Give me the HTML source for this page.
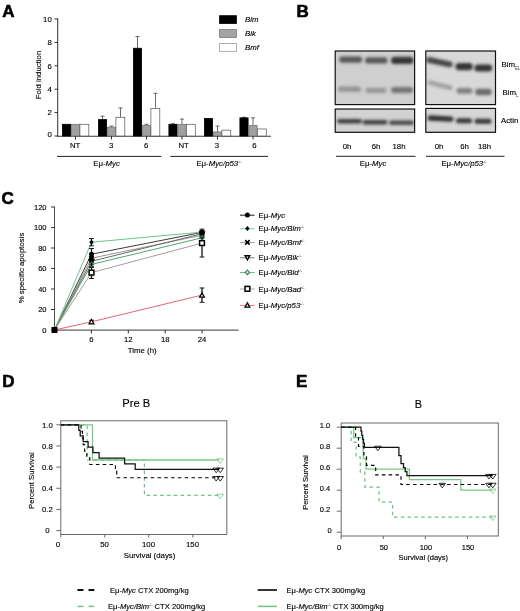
<!DOCTYPE html>
<html><head><meta charset="utf-8"><title>Figure</title>
<style>
html,body{margin:0;padding:0;background:#fff;}
svg{display:block;font-family:"Liberation Sans",sans-serif;filter:blur(0.35px);}
text{fill:#000;stroke:#000;stroke-width:0.13px;}
</style></head><body>
<svg width="520" height="611" viewBox="0 0 520 611">
<rect width="520" height="611" fill="#fff"/>
<text x="2.3" y="16.8" font-size="17" font-weight="bold" style="stroke-width:0.6px" stroke-linejoin="round">A</text>
<text x="296.5" y="17.2" font-size="17" font-weight="bold" style="stroke-width:0.6px" stroke-linejoin="round">B</text>
<text x="1.6" y="204.3" font-size="17" font-weight="bold" style="stroke-width:0.6px" stroke-linejoin="round">C</text>
<text x="2.2" y="386.7" font-size="17" font-weight="bold" style="stroke-width:0.6px" stroke-linejoin="round">D</text>
<text x="296.1" y="386.8" font-size="17" font-weight="bold" style="stroke-width:0.6px" stroke-linejoin="round">E</text>
<line x1="57.7" y1="18.5" x2="57.7" y2="136.8" stroke="#3a3a3a" stroke-width="1.05" />
<line x1="57.2" y1="136.3" x2="271" y2="136.3" stroke="#3a3a3a" stroke-width="1.05" />
<line x1="54.5" y1="136.0" x2="58" y2="136.0" stroke="#333" stroke-width="1" />
<text x="51.8" y="137.29999999999998" font-size="7.8" text-anchor="end" >0</text>
<line x1="54.5" y1="112.6" x2="58" y2="112.6" stroke="#333" stroke-width="1" />
<text x="51.8" y="115.3" font-size="7.8" text-anchor="end" >2</text>
<line x1="54.5" y1="89.2" x2="58" y2="89.2" stroke="#333" stroke-width="1" />
<text x="51.8" y="91.9" font-size="7.8" text-anchor="end" >4</text>
<line x1="54.5" y1="65.80000000000001" x2="58" y2="65.80000000000001" stroke="#333" stroke-width="1" />
<text x="51.8" y="68.50000000000001" font-size="7.8" text-anchor="end" >6</text>
<line x1="54.5" y1="42.400000000000006" x2="58" y2="42.400000000000006" stroke="#333" stroke-width="1" />
<text x="51.8" y="45.10000000000001" font-size="7.8" text-anchor="end" >8</text>
<line x1="54.5" y1="19.0" x2="58" y2="19.0" stroke="#333" stroke-width="1" />
<text x="51.8" y="21.7" font-size="7.8" text-anchor="end" >10</text>
<text x="41" y="75" font-size="7.8" text-anchor="middle" transform="rotate(-90 41 75)" >Fold induction</text>
<rect x="62.4" y="124.30" width="8.2" height="11.70" fill="#000" stroke="#000" stroke-width="0.8"/>
<rect x="71.4" y="124.30" width="8.2" height="11.70" fill="#a0a0a0" stroke="#777" stroke-width="0.8"/>
<rect x="79.9" y="124.30" width="8.9" height="11.70" fill="#fff" stroke="#555" stroke-width="0.7"/>
<line x1="75.5" y1="136" x2="75.5" y2="139.5" stroke="#333" stroke-width="1" />
<text x="75.1" y="148.2" font-size="7.8" text-anchor="middle" >NT</text>
<line x1="102.5" y1="119.62" x2="102.5" y2="116.11" stroke="#444" stroke-width="0.8" />
<line x1="100.5" y1="116.11" x2="104.5" y2="116.11" stroke="#444" stroke-width="0.8" />
<rect x="98.4" y="119.62" width="8.2" height="16.38" fill="#000" stroke="#000" stroke-width="0.8"/>
<line x1="111.5" y1="127.225" x2="111.5" y2="126.05499999999999" stroke="#444" stroke-width="0.8" />
<line x1="109.5" y1="126.05499999999999" x2="113.5" y2="126.05499999999999" stroke="#444" stroke-width="0.8" />
<rect x="107.4" y="127.22" width="8.2" height="8.78" fill="#a0a0a0" stroke="#777" stroke-width="0.8"/>
<line x1="120.5" y1="117.28" x2="120.5" y2="107.92" stroke="#444" stroke-width="0.8" />
<line x1="118.5" y1="107.92" x2="122.5" y2="107.92" stroke="#444" stroke-width="0.8" />
<rect x="115.9" y="117.28" width="8.9" height="18.72" fill="#fff" stroke="#555" stroke-width="0.7"/>
<line x1="111.5" y1="136" x2="111.5" y2="139.5" stroke="#333" stroke-width="1" />
<text x="111.1" y="148.2" font-size="7.8" text-anchor="middle" >3</text>
<line x1="137.5" y1="48.25" x2="137.5" y2="36.55" stroke="#444" stroke-width="0.8" />
<line x1="135.5" y1="36.55" x2="139.5" y2="36.55" stroke="#444" stroke-width="0.8" />
<rect x="133.4" y="48.25" width="8.2" height="87.75" fill="#000" stroke="#000" stroke-width="0.8"/>
<line x1="146.5" y1="125.47" x2="146.5" y2="124.3" stroke="#444" stroke-width="0.8" />
<line x1="144.5" y1="124.3" x2="148.5" y2="124.3" stroke="#444" stroke-width="0.8" />
<rect x="142.4" y="125.47" width="8.2" height="10.53" fill="#a0a0a0" stroke="#777" stroke-width="0.8"/>
<line x1="155.5" y1="108.505" x2="155.5" y2="93.295" stroke="#444" stroke-width="0.8" />
<line x1="153.5" y1="93.295" x2="157.5" y2="93.295" stroke="#444" stroke-width="0.8" />
<rect x="150.9" y="108.50" width="8.9" height="27.50" fill="#fff" stroke="#555" stroke-width="0.7"/>
<line x1="146.5" y1="136" x2="146.5" y2="139.5" stroke="#333" stroke-width="1" />
<text x="146.1" y="148.2" font-size="7.8" text-anchor="middle" >6</text>
<line x1="173.0" y1="124.3" x2="173.0" y2="123.715" stroke="#444" stroke-width="0.8" />
<line x1="171.0" y1="123.715" x2="175.0" y2="123.715" stroke="#444" stroke-width="0.8" />
<rect x="168.9" y="124.30" width="8.2" height="11.70" fill="#000" stroke="#000" stroke-width="0.8"/>
<line x1="182.0" y1="124.3" x2="182.0" y2="119.035" stroke="#444" stroke-width="0.8" />
<line x1="180.0" y1="119.035" x2="184.0" y2="119.035" stroke="#444" stroke-width="0.8" />
<rect x="177.9" y="124.30" width="8.2" height="11.70" fill="#a0a0a0" stroke="#777" stroke-width="0.8"/>
<rect x="186.4" y="124.30" width="8.9" height="11.70" fill="#fff" stroke="#555" stroke-width="0.7"/>
<line x1="182.0" y1="136" x2="182.0" y2="139.5" stroke="#333" stroke-width="1" />
<text x="183.6" y="148.2" font-size="7.8" text-anchor="middle" >NT</text>
<rect x="204.4" y="118.45" width="8.2" height="17.55" fill="#000" stroke="#000" stroke-width="0.8"/>
<line x1="217.5" y1="131.905" x2="217.5" y2="126.055" stroke="#444" stroke-width="0.8" />
<line x1="215.5" y1="126.055" x2="219.5" y2="126.055" stroke="#444" stroke-width="0.8" />
<rect x="213.4" y="131.91" width="8.2" height="4.09" fill="#a0a0a0" stroke="#777" stroke-width="0.8"/>
<rect x="221.9" y="130.15" width="8.9" height="5.85" fill="#fff" stroke="#555" stroke-width="0.7"/>
<line x1="217.5" y1="136" x2="217.5" y2="139.5" stroke="#333" stroke-width="1" />
<text x="216.8" y="148.2" font-size="7.8" text-anchor="middle" >3</text>
<line x1="244.0" y1="117.86500000000001" x2="244.0" y2="117.28000000000002" stroke="#444" stroke-width="0.8" />
<line x1="242.0" y1="117.28000000000002" x2="246.0" y2="117.28000000000002" stroke="#444" stroke-width="0.8" />
<rect x="239.9" y="117.87" width="8.2" height="18.13" fill="#000" stroke="#000" stroke-width="0.8"/>
<line x1="253.0" y1="125.47" x2="253.0" y2="117.865" stroke="#444" stroke-width="0.8" />
<line x1="251.0" y1="117.865" x2="255.0" y2="117.865" stroke="#444" stroke-width="0.8" />
<rect x="248.9" y="125.47" width="8.2" height="10.53" fill="#a0a0a0" stroke="#777" stroke-width="0.8"/>
<rect x="257.4" y="128.98" width="8.9" height="7.02" fill="#fff" stroke="#555" stroke-width="0.7"/>
<line x1="253.0" y1="136" x2="253.0" y2="139.5" stroke="#333" stroke-width="1" />
<text x="254.5" y="148.2" font-size="7.8" text-anchor="middle" >6</text>
<line x1="57" y1="156.4" x2="161.3" y2="156.4" stroke="#222" stroke-width="1" />
<line x1="170.4" y1="156.4" x2="268" y2="156.4" stroke="#222" stroke-width="1" />
<text x="106.5" y="166" font-size="7.8" text-anchor="middle" >Eμ-<tspan font-style="italic">Myc</tspan></text>
<text x="219" y="166" font-size="7.8" text-anchor="middle" >Eμ-<tspan font-style="italic">Myc/p53</tspan><tspan font-size="3.6" dy="-3" style="stroke-width:0;fill:#333">-/-</tspan></text>
<rect x="219.6" y="15.7" width="16.8" height="7.8" fill="#000" stroke="#000" stroke-width="0.8"/>
<text x="245" y="22.4" font-size="7.8" text-anchor="start" font-style="italic">Bim</text>
<rect x="219.6" y="29.6" width="16.8" height="7.8" fill="#a4a4a4" stroke="#777" stroke-width="0.8"/>
<text x="245" y="36.300000000000004" font-size="7.8" text-anchor="start" font-style="italic">Bik</text>
<rect x="219.6" y="43.5" width="16.8" height="7.8" fill="#fff" stroke="#999" stroke-width="0.8"/>
<text x="245" y="50.2" font-size="7.8" text-anchor="start" font-style="italic">Bmf</text>
<defs>
<filter id="bl" x="-30%" y="-200%" width="160%" height="500%"><feGaussianBlur stdDeviation="1.5 1.4"/></filter>
<filter id="bl2" x="-20%" y="-100%" width="140%" height="300%"><feGaussianBlur stdDeviation="1.4 0.8"/></filter>
<clipPath id="c1"><rect x="335.5" y="51" width="79" height="53.5"/></clipPath>
<clipPath id="c2"><rect x="335.5" y="109" width="79" height="23.5"/></clipPath>
<clipPath id="c3"><rect x="426" y="51" width="69.5" height="53.5"/></clipPath>
<clipPath id="c4"><rect x="426" y="108.4" width="69.5" height="24"/></clipPath>
</defs>
<rect x="335.2" y="51" width="79.4" height="53.6" fill="#cfcfcf"/>
<g clip-path="url(#c1)">
<g filter="url(#bl)"><rect x="339.2" y="56.5" width="23" height="6.2" rx="3.1" fill="#3a3a3a" opacity="0.8"/></g>
<g filter="url(#bl)"><rect x="365.05" y="57.3" width="22.5" height="6.2" rx="3.1" fill="#3a3a3a" opacity="0.8"/></g>
<g filter="url(#bl)"><rect x="391.05" y="56.8" width="22.5" height="7.2" rx="3.6" fill="#262626" opacity="0.9"/></g>
<g filter="url(#bl)"><rect x="338.0" y="86.60000000000001" width="23" height="5.2" rx="2.6" fill="#555" opacity="0.5"/></g>
<g filter="url(#bl)"><rect x="365.5" y="87.7" width="21" height="5.2" rx="2.6" fill="#555" opacity="0.45"/></g>
<g filter="url(#bl)"><rect x="391.0" y="87.1" width="22" height="5.8" rx="2.9" fill="#444" opacity="0.65"/></g>
</g>
<rect x="335.2" y="51" width="79.4" height="53.6" fill="none" stroke="#111" stroke-width="1.2"/>
<rect x="335.2" y="109" width="79.4" height="23.3" fill="#d2d2d2"/>
<g clip-path="url(#c2)">
<g filter="url(#bl)"><rect x="337.0" y="118.9" width="25" height="4.6" rx="2.3" fill="#2a2a2a" opacity="0.88"/></g>
<g filter="url(#bl)"><rect x="362.5" y="120.0" width="25" height="4.6" rx="2.3" fill="#2a2a2a" opacity="0.88"/></g>
<g filter="url(#bl)"><rect x="389.0" y="120.6" width="25" height="4.4" rx="2.2" fill="#2a2a2a" opacity="0.82"/></g>
</g>
<rect x="335.2" y="109" width="79.4" height="23.3" fill="none" stroke="#111" stroke-width="1.2"/>
<rect x="425.8" y="51" width="69.7" height="53.6" fill="#d8d8d8"/>
<g clip-path="url(#c3)">
<g filter="url(#bl)"><rect x="426.0" y="59.2" width="27" height="6" rx="3.0" fill="#2e2e2e" opacity="0.85" transform="rotate(12 439.5 62.2)"/></g>
<g filter="url(#bl)"><rect x="455.35" y="62.99999999999999" width="17.5" height="7.2" rx="3.6" fill="#262626" opacity="0.9"/></g>
<g filter="url(#bl)"><rect x="474.3" y="64.4" width="18" height="7.2" rx="3.6" fill="#262626" opacity="0.9"/></g>
<g filter="url(#bl)"><rect x="427.0" y="82.95" width="26" height="4.5" rx="2.25" fill="#666" opacity="0.5" transform="rotate(14 440 85.2)"/></g>
<g filter="url(#bl)"><rect x="456.5" y="87.89999999999999" width="16" height="5.8" rx="2.9" fill="#444" opacity="0.6"/></g>
<g filter="url(#bl)"><rect x="475.25" y="88.85" width="16.5" height="6.3" rx="3.15" fill="#3a3a3a" opacity="0.7"/></g>
</g>
<rect x="425.8" y="51" width="69.7" height="53.6" fill="none" stroke="#111" stroke-width="1.2"/>
<rect x="425.8" y="108.4" width="69.7" height="23.9" fill="#d6d6d6"/>
<g clip-path="url(#c4)">
<g filter="url(#bl)"><rect x="427.5" y="115.89999999999999" width="26" height="5.4" rx="2.7" fill="#222" opacity="0.92" transform="rotate(3 440.5 118.6)"/></g>
<g filter="url(#bl)"><rect x="456.0" y="118.2" width="16" height="5" rx="2.5" fill="#222" opacity="0.9"/></g>
<g filter="url(#bl)"><rect x="474.5" y="118.7" width="17" height="5" rx="2.5" fill="#222" opacity="0.9"/></g>
</g>
<rect x="425.8" y="108.4" width="69.7" height="23.9" fill="none" stroke="#111" stroke-width="1.2"/>
<text x="501.5" y="67" font-size="7.8" text-anchor="start" >Bim<tspan font-size="4.6" dy="2.6" style="stroke-width:0;fill:#444">EL</tspan></text>
<text x="502.5" y="94.5" font-size="7.8" text-anchor="start" >Bim<tspan font-size="4.6" dy="2.6" style="stroke-width:0;fill:#444">L</tspan></text>
<text x="501" y="123.1" font-size="7.8" text-anchor="start" >Actin</text>
<text x="347" y="148.5" font-size="7.8" text-anchor="middle" >0h</text>
<text x="376" y="148.5" font-size="7.8" text-anchor="middle" >6h</text>
<text x="399" y="148.5" font-size="7.8" text-anchor="middle" >18h</text>
<text x="439" y="148.5" font-size="7.8" text-anchor="middle" >0h</text>
<text x="464.5" y="148.5" font-size="7.8" text-anchor="middle" >6h</text>
<text x="484.5" y="148.5" font-size="7.8" text-anchor="middle" >18h</text>
<line x1="336" y1="156.3" x2="415.5" y2="156.3" stroke="#222" stroke-width="1" />
<line x1="426" y1="156.3" x2="504.5" y2="156.3" stroke="#222" stroke-width="1" />
<text x="373" y="166" font-size="7.8" text-anchor="middle" >Eμ-<tspan font-style="italic">Myc</tspan></text>
<text x="464" y="166" font-size="7.8" text-anchor="middle" >Eμ-<tspan font-style="italic">Myc/p53</tspan><tspan font-size="3.6" dy="-3" style="stroke-width:0;fill:#333">-/-</tspan></text>
<line x1="54.5" y1="206.5" x2="54.5" y2="330.5" stroke="#505050" stroke-width="1" />
<line x1="54.0" y1="330.2" x2="238.5" y2="330.2" stroke="#606060" stroke-width="1.3" />
<line x1="51.0" y1="330.0" x2="54.5" y2="330.0" stroke="#333" stroke-width="1" />
<text x="46.5" y="332.6" font-size="7.5" text-anchor="end" >0</text>
<line x1="51.0" y1="309.5" x2="54.5" y2="309.5" stroke="#333" stroke-width="1" />
<text x="46.5" y="312.1" font-size="7.5" text-anchor="end" >20</text>
<line x1="51.0" y1="289.0" x2="54.5" y2="289.0" stroke="#333" stroke-width="1" />
<text x="46.5" y="291.6" font-size="7.5" text-anchor="end" >40</text>
<line x1="51.0" y1="268.5" x2="54.5" y2="268.5" stroke="#333" stroke-width="1" />
<text x="46.5" y="271.1" font-size="7.5" text-anchor="end" >60</text>
<line x1="51.0" y1="248.0" x2="54.5" y2="248.0" stroke="#333" stroke-width="1" />
<text x="46.5" y="250.6" font-size="7.5" text-anchor="end" >80</text>
<line x1="51.0" y1="227.5" x2="54.5" y2="227.5" stroke="#333" stroke-width="1" />
<text x="46.5" y="230.1" font-size="7.5" text-anchor="end" >100</text>
<line x1="51.0" y1="207.0" x2="54.5" y2="207.0" stroke="#333" stroke-width="1" />
<text x="46.5" y="209.6" font-size="7.5" text-anchor="end" >120</text>
<line x1="91.4" y1="330" x2="91.4" y2="333.5" stroke="#333" stroke-width="1" />
<text x="91.4" y="341.8" font-size="7.7" text-anchor="middle" >6</text>
<line x1="128.3" y1="330" x2="128.3" y2="333.5" stroke="#333" stroke-width="1" />
<text x="128.3" y="341.8" font-size="7.7" text-anchor="middle" >12</text>
<line x1="165.2" y1="330" x2="165.2" y2="333.5" stroke="#333" stroke-width="1" />
<text x="165.2" y="341.8" font-size="7.7" text-anchor="middle" >18</text>
<line x1="202.1" y1="330" x2="202.1" y2="333.5" stroke="#333" stroke-width="1" />
<text x="202.1" y="341.8" font-size="7.7" text-anchor="middle" >24</text>
<text x="142.2" y="353.1" font-size="7.8" text-anchor="middle" >Time (h)</text>
<text x="24" y="268" font-size="7.8" text-anchor="middle" transform="rotate(-90 24 268)" >% specific apoptosis</text>
<polyline points="54.5,330 91.5,254.2 202,232.4" fill="none" stroke="#3a3a3a" stroke-width="1"/>
<polyline points="54.5,330 91.5,242.2 202,232.1" fill="none" stroke="#70c090" stroke-width="1"/>
<polyline points="54.5,330 91.5,258.2 202,235.2" fill="none" stroke="#a09090" stroke-width="1"/>
<polyline points="54.5,330 91.5,261.3 202,233.7" fill="none" stroke="#6a6a6a" stroke-width="1"/>
<polyline points="54.5,330 91.5,264.4 202,237.8" fill="none" stroke="#4fa66e" stroke-width="1"/>
<polyline points="54.5,330 91.5,272.6 202,243.1" fill="none" stroke="#a89a9a" stroke-width="1"/>
<polyline points="54.5,330 91.5,321.8 202,295.1" fill="none" stroke="#e56672" stroke-width="1"/>
<line x1="91.5" y1="248.51250000000002" x2="91.5" y2="259.7875" stroke="#111" stroke-width="1.3" />
<line x1="89.1" y1="248.51250000000002" x2="93.9" y2="248.51250000000002" stroke="#1a1a1a" stroke-width="1" />
<line x1="89.1" y1="259.7875" x2="93.9" y2="259.7875" stroke="#1a1a1a" stroke-width="1" />
<line x1="202" y1="230.37" x2="202" y2="234.47000000000003" stroke="#111" stroke-width="1.3" />
<line x1="199.6" y1="230.37" x2="204.4" y2="230.37" stroke="#1a1a1a" stroke-width="1" />
<line x1="199.6" y1="234.47000000000003" x2="204.4" y2="234.47000000000003" stroke="#1a1a1a" stroke-width="1" />
<line x1="91.5" y1="238.4675" x2="91.5" y2="245.8475" stroke="#111" stroke-width="1.3" />
<line x1="89.1" y1="238.4675" x2="93.9" y2="238.4675" stroke="#1a1a1a" stroke-width="1" />
<line x1="89.1" y1="245.8475" x2="93.9" y2="245.8475" stroke="#1a1a1a" stroke-width="1" />
<line x1="202" y1="231.0875" x2="202" y2="233.13750000000002" stroke="#111" stroke-width="1.3" />
<line x1="199.6" y1="231.0875" x2="204.4" y2="231.0875" stroke="#1a1a1a" stroke-width="1" />
<line x1="199.6" y1="233.13750000000002" x2="204.4" y2="233.13750000000002" stroke="#1a1a1a" stroke-width="1" />
<line x1="91.5" y1="254.15" x2="91.5" y2="262.35" stroke="#111" stroke-width="1.3" />
<line x1="89.1" y1="254.15" x2="93.9" y2="254.15" stroke="#1a1a1a" stroke-width="1" />
<line x1="89.1" y1="262.35" x2="93.9" y2="262.35" stroke="#1a1a1a" stroke-width="1" />
<line x1="202" y1="232.1125" x2="202" y2="238.2625" stroke="#111" stroke-width="1.3" />
<line x1="199.6" y1="232.1125" x2="204.4" y2="232.1125" stroke="#1a1a1a" stroke-width="1" />
<line x1="199.6" y1="238.2625" x2="204.4" y2="238.2625" stroke="#1a1a1a" stroke-width="1" />
<line x1="91.5" y1="258.25" x2="91.5" y2="264.4" stroke="#111" stroke-width="1.3" />
<line x1="89.1" y1="258.25" x2="93.9" y2="258.25" stroke="#1a1a1a" stroke-width="1" />
<line x1="89.1" y1="264.4" x2="93.9" y2="264.4" stroke="#1a1a1a" stroke-width="1" />
<line x1="202" y1="231.6" x2="202" y2="235.70000000000002" stroke="#111" stroke-width="1.3" />
<line x1="199.6" y1="231.6" x2="204.4" y2="231.6" stroke="#1a1a1a" stroke-width="1" />
<line x1="199.6" y1="235.70000000000002" x2="204.4" y2="235.70000000000002" stroke="#1a1a1a" stroke-width="1" />
<line x1="91.5" y1="261.325" x2="91.5" y2="267.47499999999997" stroke="#111" stroke-width="1.3" />
<line x1="89.1" y1="261.325" x2="93.9" y2="261.325" stroke="#1a1a1a" stroke-width="1" />
<line x1="89.1" y1="267.47499999999997" x2="93.9" y2="267.47499999999997" stroke="#1a1a1a" stroke-width="1" />
<line x1="202" y1="234.675" x2="202" y2="240.825" stroke="#111" stroke-width="1.3" />
<line x1="199.6" y1="234.675" x2="204.4" y2="234.675" stroke="#1a1a1a" stroke-width="1" />
<line x1="199.6" y1="240.825" x2="204.4" y2="240.825" stroke="#1a1a1a" stroke-width="1" />
<line x1="91.5" y1="266.65500000000003" x2="91.5" y2="278.545" stroke="#111" stroke-width="1.3" />
<line x1="89.1" y1="266.65500000000003" x2="93.9" y2="266.65500000000003" stroke="#1a1a1a" stroke-width="1" />
<line x1="89.1" y1="278.545" x2="93.9" y2="278.545" stroke="#1a1a1a" stroke-width="1" />
<line x1="202" y1="229.14000000000001" x2="202" y2="257.02" stroke="#111" stroke-width="1.3" />
<line x1="199.6" y1="229.14000000000001" x2="204.4" y2="229.14000000000001" stroke="#1a1a1a" stroke-width="1" />
<line x1="199.6" y1="257.02" x2="204.4" y2="257.02" stroke="#1a1a1a" stroke-width="1" />
<line x1="91.5" y1="320.2625" x2="91.5" y2="323.33750000000003" stroke="#111" stroke-width="1.3" />
<line x1="89.1" y1="320.2625" x2="93.9" y2="320.2625" stroke="#1a1a1a" stroke-width="1" />
<line x1="89.1" y1="323.33750000000003" x2="93.9" y2="323.33750000000003" stroke="#1a1a1a" stroke-width="1" />
<line x1="202" y1="287.97499999999997" x2="202" y2="302.325" stroke="#111" stroke-width="1.3" />
<line x1="199.6" y1="287.97499999999997" x2="204.4" y2="287.97499999999997" stroke="#1a1a1a" stroke-width="1" />
<line x1="199.6" y1="302.325" x2="204.4" y2="302.325" stroke="#1a1a1a" stroke-width="1" />
<circle cx="91.5" cy="254.15" r="2.5" fill="#000"/>
<circle cx="202" cy="232.42000000000002" r="2.5" fill="#000"/>
<path d="M91.5 239.6575L93.7 242.1575L91.5 244.6575L89.3 242.1575Z" fill="#000"/>
<path d="M202 229.6125L204.2 232.1125L202 234.6125L199.8 232.1125Z" fill="#000"/>
<path d="M89.3 256.05L93.7 260.45M89.3 260.45L93.7 256.05" stroke="#000" stroke-width="1.7" fill="none"/>
<path d="M199.8 232.9875L204.2 237.3875M199.8 237.3875L204.2 232.9875" stroke="#000" stroke-width="1.7" fill="none"/>
<path d="M89.2 259.525L93.8 259.525L91.5 263.625Z" fill="none" stroke="#000" stroke-width="1.4" stroke-linejoin="miter"/>
<path d="M199.7 231.85L204.3 231.85L202 235.95000000000002Z" fill="none" stroke="#000" stroke-width="1.4" stroke-linejoin="miter"/>
<path d="M91.5 262.09999999999997L93.6 264.4L91.5 266.7L89.4 264.4Z" fill="none" stroke="#3a7a50" stroke-width="1.1"/>
<path d="M202 235.45L204.1 237.75L202 240.05L199.9 237.75Z" fill="none" stroke="#3a7a50" stroke-width="1.1"/>
<rect x="89.1" y="270.20000000000005" width="4.8" height="4.8" fill="#fff" stroke="#000" stroke-width="1.5"/>
<rect x="199.6" y="240.68" width="4.8" height="4.8" fill="#fff" stroke="#000" stroke-width="1.5"/>
<path d="M89.1 323.8L93.9 323.8L91.5 319.5Z" fill="#fff" stroke="#000" stroke-width="1.25"/>
<path d="M199.6 297.15L204.4 297.15L202 292.84999999999997Z" fill="#fff" stroke="#000" stroke-width="1.25"/>
<rect x="51.5" y="327" width="6" height="6" fill="#000"/>
<line x1="240" y1="215.2" x2="254.6" y2="215.2" stroke="#000" stroke-width="0.9" />
<circle cx="247.4" cy="215" r="2.5" fill="#000"/>
<text x="258.5" y="217.7" font-size="7.8" text-anchor="start" >Eμ-<tspan font-style="italic">Myc</tspan></text>
<line x1="240" y1="228.79999999999998" x2="254.6" y2="228.79999999999998" stroke="#70c090" stroke-width="0.9" />
<path d="M247.4 226.1L249.6 228.6L247.4 231.1L245.20000000000002 228.6Z" fill="#000"/>
<text x="258.5" y="231.29999999999998" font-size="7.8" text-anchor="start" >Eμ-<tspan font-style="italic">Myc/Bim</tspan><tspan font-size="3.6" dy="-3" style="stroke-width:0;fill:#333">-/-</tspan></text>
<line x1="240" y1="242.6" x2="254.6" y2="242.6" stroke="#a09090" stroke-width="0.9" />
<path d="M245.20000000000002 240.20000000000002L249.6 244.6M245.20000000000002 244.6L249.6 240.20000000000002" stroke="#000" stroke-width="1.7" fill="none"/>
<text x="258.5" y="245.1" font-size="7.8" text-anchor="start" >Eμ-<tspan font-style="italic">Myc/Bmf</tspan><tspan font-size="3.6" dy="-3" style="stroke-width:0;fill:#333">-/-</tspan></text>
<line x1="240" y1="257.8" x2="254.6" y2="257.8" stroke="#6a6a6a" stroke-width="0.9" />
<path d="M245.1 255.8L249.70000000000002 255.8L247.4 259.90000000000003Z" fill="#fff" stroke="#000" stroke-width="1.4" stroke-linejoin="miter"/>
<text x="258.5" y="260.3" font-size="7.8" text-anchor="start" >Eμ-<tspan font-style="italic">Myc/Bik</tspan><tspan font-size="3.6" dy="-3" style="stroke-width:0;fill:#333">-/-</tspan></text>
<line x1="240" y1="272.59999999999997" x2="254.6" y2="272.59999999999997" stroke="#4fa66e" stroke-width="0.9" />
<path d="M247.4 270.09999999999997L249.5 272.4L247.4 274.7L245.3 272.4Z" fill="#fff" stroke="#3a7a50" stroke-width="1.1"/>
<text x="258.5" y="275.09999999999997" font-size="7.8" text-anchor="start" >Eμ-<tspan font-style="italic">Myc/Bid</tspan><tspan font-size="3.6" dy="-3" style="stroke-width:0;fill:#333">-/-</tspan></text>
<line x1="240" y1="289.0" x2="254.6" y2="289.0" stroke="#a89a9a" stroke-width="0.9" />
<rect x="245.0" y="286.40000000000003" width="4.8" height="4.8" fill="#fff" stroke="#000" stroke-width="1.5"/>
<text x="258.5" y="291.5" font-size="7.8" text-anchor="start" >Eμ-<tspan font-style="italic">Myc/Bad</tspan><tspan font-size="3.6" dy="-3" style="stroke-width:0;fill:#333">-/-</tspan></text>
<line x1="240" y1="305.4" x2="254.6" y2="305.4" stroke="#e56672" stroke-width="0.9" />
<path d="M245.0 307.2L249.8 307.2L247.4 302.9Z" fill="#fff" stroke="#000" stroke-width="1.25"/>
<text x="258.5" y="307.9" font-size="7.8" text-anchor="start" >Eμ-<tspan font-style="italic">Myc/p53</tspan><tspan font-size="3.6" dy="-3" style="stroke-width:0;fill:#333">-/-</tspan></text>
<rect x="60.8" y="420.8" width="166.0" height="113.69999999999999" fill="none" stroke="#6a6a6a" stroke-width="1"/>
<line x1="56.3" y1="530.6" x2="60.8" y2="530.6" stroke="#6a6a6a" stroke-width="1" />
<text x="47.3" y="533.3000000000001" font-size="7.8" text-anchor="middle" >0</text>
<line x1="56.3" y1="509.44" x2="60.8" y2="509.44" stroke="#6a6a6a" stroke-width="1" />
<text x="47.3" y="512.14" font-size="7.8" text-anchor="middle" >0.2</text>
<line x1="56.3" y1="488.28000000000003" x2="60.8" y2="488.28000000000003" stroke="#6a6a6a" stroke-width="1" />
<text x="47.3" y="490.98" font-size="7.8" text-anchor="middle" >0.4</text>
<line x1="56.3" y1="467.12" x2="60.8" y2="467.12" stroke="#6a6a6a" stroke-width="1" />
<text x="47.3" y="469.82" font-size="7.8" text-anchor="middle" >0.6</text>
<line x1="56.3" y1="445.96" x2="60.8" y2="445.96" stroke="#6a6a6a" stroke-width="1" />
<text x="47.3" y="448.65999999999997" font-size="7.8" text-anchor="middle" >0.8</text>
<line x1="56.3" y1="424.8" x2="60.8" y2="424.8" stroke="#6a6a6a" stroke-width="1" />
<text x="47.3" y="427.5" font-size="7.8" text-anchor="middle" >1.0</text>
<line x1="60.8" y1="534.5" x2="60.8" y2="537.5" stroke="#6a6a6a" stroke-width="1" />
<text x="57.8" y="546.5" font-size="7.8" text-anchor="middle" >0</text>
<line x1="104.8" y1="534.5" x2="104.8" y2="537.5" stroke="#6a6a6a" stroke-width="1" />
<text x="104.5" y="546.5" font-size="7.8" text-anchor="middle" >50</text>
<line x1="148.8" y1="534.5" x2="148.8" y2="537.5" stroke="#6a6a6a" stroke-width="1" />
<text x="148.5" y="546.5" font-size="7.8" text-anchor="middle" >100</text>
<line x1="192.8" y1="534.5" x2="192.8" y2="537.5" stroke="#6a6a6a" stroke-width="1" />
<text x="192.5" y="546.5" font-size="7.8" text-anchor="middle" >150</text>
<text x="149.5" y="558.0" font-size="7.8" text-anchor="middle" >Survival (days)</text>
<text x="34.2" y="480.65" font-size="7.8" text-anchor="middle" transform="rotate(-90 34.2 480.65)" >Percent Survival</text>
<text x="136.3" y="406.7" font-size="11.2" text-anchor="middle" >Pre B</text>
<polyline points="60.8,424.8 92.5,424.8 92.5,460.0 219.2,460.0" fill="none" stroke="#78c888" stroke-width="1.3"/>
<polyline points="60.8,424.8 87.2,424.8 87.2,460.0 144.4,460.0 144.4,495.4 219.2,495.4" fill="none" stroke="#6ec283" stroke-width="1.2" stroke-dasharray="3.5 3.3"/>
<polyline points="60.8,424.8 81.0,424.8 81.0,431.4 82.4,431.4 82.4,438.0 83.2,438.0 83.2,444.6 84.6,444.6 84.6,451.2 86.8,451.2 86.8,457.9 89.8,457.9 89.8,464.5 115.4,464.5 115.4,471.1 116.7,471.1 116.7,477.7 219.2,477.7" fill="none" stroke="#000" stroke-width="1.15" stroke-dasharray="3.5 3.3"/>
<polyline points="60.8,424.8 78.8,424.8 78.8,430.4 80.2,430.4 80.2,435.9 83.2,435.9 83.2,441.5 88.1,441.5 88.1,447.1 92.9,447.1 92.9,452.6 99.1,452.6 99.1,458.2 124.6,458.2 124.6,463.8 135.2,463.8 135.2,469.3 219.2,469.3" fill="none" stroke="#111" stroke-width="1.25"/>
<path d="M216.89999999999998 458.83140000000003L223.5 458.83140000000003L220.2 463.4314Z" fill="none" stroke="#78c888" stroke-width="0.8"/>
<path d="M216.89999999999998 494.1686L223.5 494.1686L220.2 498.7686Z" fill="none" stroke="#78c888" stroke-width="0.8"/>
<path d="M212.89999999999998 468.14736842105265L219.5 468.14736842105265L216.2 472.7473684210526Z" fill="none" stroke="#000" stroke-width="0.8"/>
<path d="M212.89999999999998 476.5L219.5 476.5L216.2 481.09999999999997Z" fill="none" stroke="#000" stroke-width="0.8"/>
<path d="M216.89999999999998 468.14736842105265L223.5 468.14736842105265L220.2 472.7473684210526Z" fill="none" stroke="#000" stroke-width="0.8"/>
<path d="M216.89999999999998 476.5L223.5 476.5L220.2 481.09999999999997Z" fill="none" stroke="#000" stroke-width="0.8"/>
<rect x="341.2" y="423" width="157.10000000000002" height="113" fill="none" stroke="#6a6a6a" stroke-width="1"/>
<line x1="336.7" y1="532.2" x2="341.2" y2="532.2" stroke="#6a6a6a" stroke-width="1" />
<text x="329.7" y="532.9000000000001" font-size="7.5" text-anchor="middle" >0</text>
<line x1="336.7" y1="511.2" x2="341.2" y2="511.2" stroke="#6a6a6a" stroke-width="1" />
<text x="325" y="511.9" font-size="7.5" text-anchor="middle" >0.2</text>
<line x1="336.7" y1="490.2" x2="341.2" y2="490.2" stroke="#6a6a6a" stroke-width="1" />
<text x="325" y="490.9" font-size="7.5" text-anchor="middle" >0.4</text>
<line x1="336.7" y1="469.2" x2="341.2" y2="469.2" stroke="#6a6a6a" stroke-width="1" />
<text x="325" y="469.9" font-size="7.5" text-anchor="middle" >0.6</text>
<line x1="336.7" y1="448.2" x2="341.2" y2="448.2" stroke="#6a6a6a" stroke-width="1" />
<text x="325" y="448.9" font-size="7.5" text-anchor="middle" >0.8</text>
<line x1="336.7" y1="427.2" x2="341.2" y2="427.2" stroke="#6a6a6a" stroke-width="1" />
<text x="325" y="427.9" font-size="7.5" text-anchor="middle" >1.0</text>
<line x1="341.2" y1="536" x2="341.2" y2="539" stroke="#6a6a6a" stroke-width="1" />
<text x="339.0" y="549.6" font-size="7.5" text-anchor="middle" >0</text>
<line x1="383.3" y1="536" x2="383.3" y2="539" stroke="#6a6a6a" stroke-width="1" />
<text x="383.8" y="549.6" font-size="7.5" text-anchor="middle" >50</text>
<line x1="425.4" y1="536" x2="425.4" y2="539" stroke="#6a6a6a" stroke-width="1" />
<text x="425.9" y="549.6" font-size="7.5" text-anchor="middle" >100</text>
<line x1="467.5" y1="536" x2="467.5" y2="539" stroke="#6a6a6a" stroke-width="1" />
<text x="468.0" y="549.6" font-size="7.5" text-anchor="middle" >150</text>
<text x="423.3" y="559.5" font-size="7.5" text-anchor="middle" >Survival (days)</text>
<text x="307.8" y="482.5" font-size="7.5" text-anchor="middle" transform="rotate(-90 307.8 482.5)" >Percent Survival</text>
<text x="418.4" y="407.59999999999997" font-size="10.9" text-anchor="middle" >B</text>
<polyline points="341.2,427.2 353.7,427.2 353.7,437.7 362.8,437.7 362.8,448.2 363.3,448.2 363.3,458.7 366.0,458.7 366.0,469.2 409.4,469.2 409.4,479.7 460.8,479.7 460.8,490.2 492.8,490.2" fill="none" stroke="#78c888" stroke-width="1.3"/>
<polyline points="341.2,427.2 351.2,427.2 351.2,442.2 356.1,442.2 356.1,457.2 360.3,457.2 360.3,472.2 364.9,472.2 364.9,487.2 379.1,487.2 379.1,502.2 392.6,502.2 392.6,517.2 492.8,517.2" fill="none" stroke="#6ec283" stroke-width="1.2" stroke-dasharray="3.5 3.3"/>
<polyline points="341.2,427.2 355.6,427.2 355.6,436.7 358.5,436.7 358.5,446.3 363.9,446.3 363.9,455.8 366.5,455.8 366.5,465.4 375.7,465.4 375.7,474.9 401.0,474.9 401.0,484.5 492.8,484.5" fill="none" stroke="#000" stroke-width="1.15" stroke-dasharray="3.5 3.3"/>
<polyline points="341.2,427.2 361.0,427.2 361.0,431.2 361.8,431.2 361.8,435.3 362.7,435.3 362.7,439.3 363.5,439.3 363.5,443.4 364.4,443.4 364.4,447.4 398.9,447.4 398.9,455.5 401.0,455.5 401.0,463.5 403.5,463.5 403.5,467.6 405.2,467.6 405.2,471.6 406.9,471.6 406.9,475.7 492.8,475.7" fill="none" stroke="#111" stroke-width="1.25"/>
<path d="M489.46 516.0L496.06 516.0L492.76 520.6Z" fill="none" stroke="#78c888" stroke-width="0.8"/>
<path d="M489.46 489.0L496.06 489.0L492.76 493.59999999999997Z" fill="none" stroke="#78c888" stroke-width="0.8"/>
<path d="M374.606 446.1923076923077L381.206 446.1923076923077L377.906 450.79230769230765Z" fill="none" stroke="#000" stroke-width="0.8"/>
<path d="M438.94 483.27272727272725L445.54 483.27272727272725L442.24 487.8727272727272Z" fill="none" stroke="#000" stroke-width="0.8"/>
<path d="M485.65999999999997 474.46153846153845L492.26 474.46153846153845L488.96 479.0615384615384Z" fill="none" stroke="#000" stroke-width="0.8"/>
<path d="M485.65999999999997 483.27272727272725L492.26 483.27272727272725L488.96 487.8727272727272Z" fill="none" stroke="#000" stroke-width="0.8"/>
<path d="M489.46 474.46153846153845L496.06 474.46153846153845L492.76 479.0615384615384Z" fill="none" stroke="#000" stroke-width="0.8"/>
<path d="M489.46 483.27272727272725L496.06 483.27272727272725L492.76 487.8727272727272Z" fill="none" stroke="#000" stroke-width="0.8"/>
<line x1="77.5" y1="590" x2="83.5" y2="590" stroke="#000" stroke-width="1.9" />
<line x1="88.5" y1="590" x2="94.3" y2="590" stroke="#000" stroke-width="1.9" />
<line x1="77.5" y1="606.4" x2="83.5" y2="606.4" stroke="#74c486" stroke-width="1.5" />
<line x1="88.5" y1="606.4" x2="94.3" y2="606.4" stroke="#74c486" stroke-width="1.5" />
<text x="110" y="592.7" font-size="7.6" text-anchor="start" >Eμ-<tspan font-style="italic">Myc</tspan> CTX 200mg/kg</text>
<text x="108" y="608.8" font-size="7.6" text-anchor="start" >Eμ-<tspan font-style="italic">Myc/Bim</tspan><tspan font-size="3.6" dy="-3" style="stroke-width:0;fill:#333">-/-</tspan><tspan dy="3"> CTX 200mg/kg</tspan></text>
<line x1="257.7" y1="590" x2="277" y2="590" stroke="#000" stroke-width="1.6" />
<line x1="257.7" y1="606.4" x2="277" y2="606.4" stroke="#74c486" stroke-width="1.5" />
<text x="286.5" y="592.7" font-size="7.6" text-anchor="start" >Eμ-<tspan font-style="italic">Myc</tspan> CTX 300mg/kg</text>
<text x="286.5" y="608.8" font-size="7.6" text-anchor="start" >Eμ-<tspan font-style="italic">Myc/Bim</tspan><tspan font-size="3.6" dy="-3" style="stroke-width:0;fill:#333">-/-</tspan><tspan dy="3"> CTX 300mg/kg</tspan></text>
</svg>
</body></html>
